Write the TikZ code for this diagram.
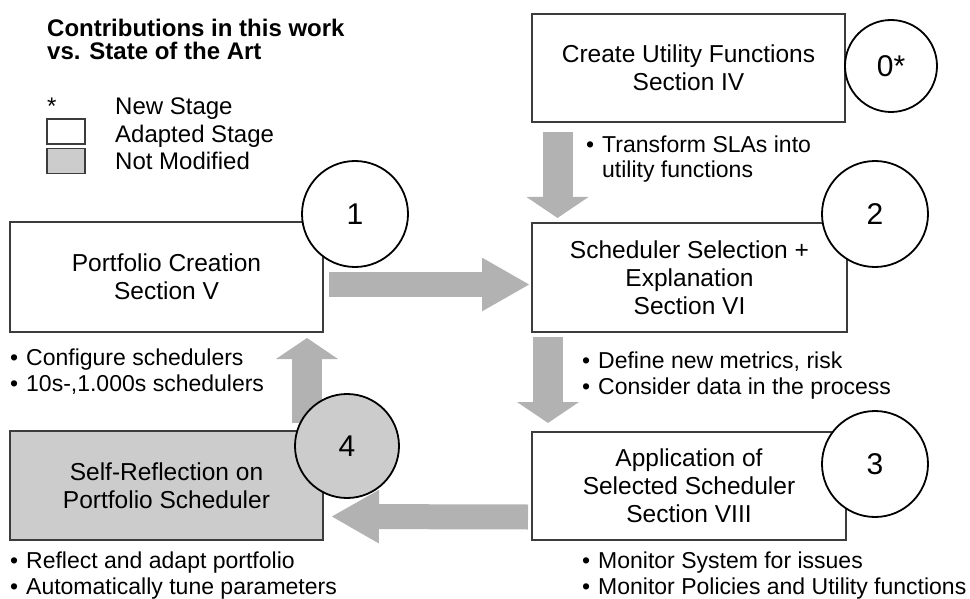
\documentclass[tikz,border=0pt]{standalone}
\usepackage{fontspec}
\setmainfont{Liberation Sans}
\usetikzlibrary{arrows.meta}
\definecolor{arrowgray}{HTML}{B2B2B2}
\definecolor{fillgray}{HTML}{CCCCCC}
\definecolor{edgegray}{HTML}{3C3C3C}
\newcommand\bitem{\makebox[16pt][l]{\textbullet}}
\begin{document}
\begin{tikzpicture}[x=1pt,y=-1pt,
  stage/.style={draw=edgegray, line width=1.1pt, fill=white, inner sep=0pt, outer sep=0pt, align=center, font=\fontsize{24.5}{28}\selectfont},
  graystage/.style={stage, fill=fillgray},
  num/.style={circle, draw=black, line width=1.8pt, fill=white, inner sep=0pt, outer sep=0pt, minimum size=106pt, font=\fontsize{30}{34}\selectfont},
  harrow/.style={draw=arrowgray, line width=25pt, -{Triangle[width=50pt,length=48pt]}},
  varrow/.style={draw=arrowgray, line width=30pt, -{Triangle[width=61pt,length=21pt]}},
  bullets/.style={anchor=base west, align=left, inner sep=0pt, font=\fontsize{23}{25.5}\selectfont},
  legtext/.style={anchor=base west, inner sep=0pt, font=\fontsize{24}{27}\selectfont},
  titletext/.style={anchor=base west, inner sep=0pt, font=\fontsize{24}{27}\selectfont\bfseries},
  legbox/.style={draw=edgegray, line width=1.1pt, inner sep=0pt, minimum width=38pt, minimum height=25pt},
]
\useasboundingbox (0,0) rectangle (970,599);

% title and legend
\node[titletext] (t1) at (47,37) {Contributions in this work};
\node[titletext] (t2) at (47,60) {vs. State of the Art};
\node[legtext] (ls) at (47,115) {*};
\node[legtext] (lt1) at (115,115) {New Stage};
\node[legbox, fill=white] (lb1) at (66,131.5) {};
\node[legtext] (lt2) at (115,143) {Adapted Stage};
\node[legbox, fill=fillgray] (lb2) at (66,161) {};
\node[legtext] (lt3) at (115,170) {Not Modified};

% stages
\node[stage, minimum width=313pt, minimum height=108pt] (b0) at (688.5,68) {Create Utility Functions\\Section IV};
\node[stage, minimum width=313pt, minimum height=110pt] (b1) at (166.5,277) {Portfolio Creation\\Section V};
\node[stage, minimum width=315pt, minimum height=109pt] (b2) at (689.5,277.5) {Scheduler Selection +\\Explanation\\Section VI};
\node[stage, minimum width=314pt, minimum height=108pt] (b3) at (689,486) {Application of\\Selected Scheduler\\Section VIII};
\node[graystage, minimum width=313pt, minimum height=109pt] (b4) at (166.5,485.5) {Self-Reflection on\\Portfolio Scheduler};

% block arrows
\draw[varrow] ([shift={(25.5,10)}]b0.south west) -- ([shift={(25.5,-5)}]b2.north west);
\draw[harrow] ([shift={(6,7.5)}]b1.east) -- ([shift={(-2,7)}]b2.west);
\draw[varrow] ([shift={(16,5)}]b2.south west) -- ([shift={(16,-9)}]b3.north west);
\draw[harrow] ([shift={(-4,31)}]b3.west) -- ([shift={(8,31)}]b4.east);
\draw[varrow] ([shift={(-16,-8)}]b4.north east) -- ([shift={(-16,6)}]b1.south east);

% step numbers
\node[num, minimum size=92pt] (n0) at (891,66) {0*};
\node[num] (n1) at (355,214) {1};
\node[num] (n2) at (875,214) {2};
\node[num] (n3) at (875,464) {3};
\node[num, fill=fillgray, minimum size=104pt] (n4) at (347,446) {4};

% bullet notes (anchor = baseline of last line)
\node[bullets] (l0) at (586,178) {\bitem Transform SLAs into\\\hspace*{16pt}utility functions};
\node[bullets] (l1) at (10,391) {\bitem Configure schedulers\\\bitem 10s-,1.000s schedulers};
\node[bullets] (l2) at (582,394) {\bitem Define new metrics, risk\\\bitem Consider data in the process};
\node[bullets] (l3) at (582,594) {\bitem Monitor System for issues\\\bitem Monitor Policies and Utility functions};
\node[bullets] (l4) at (10,594) {\bitem Reflect and adapt portfolio\\\bitem Automatically tune parameters};
\end{tikzpicture}
\end{document}
